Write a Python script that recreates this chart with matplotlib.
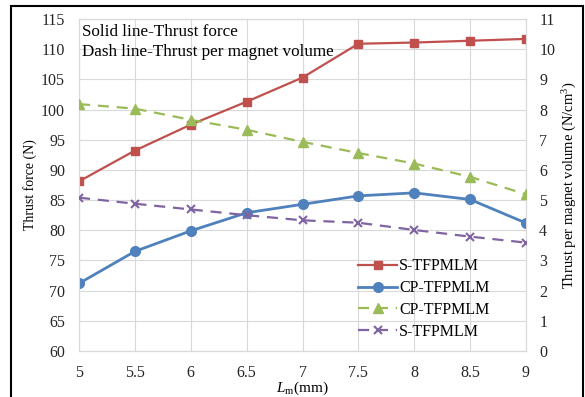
import matplotlib
matplotlib.use("Agg")
import matplotlib.pyplot as plt
from matplotlib.patches import Rectangle

plt.rcParams['font.family'] = ['Liberation Serif', 'DejaVu Serif']
plt.rcParams['mathtext.fontset'] = 'custom'
plt.rcParams['mathtext.rm'] = 'Liberation Serif'
plt.rcParams['mathtext.it'] = 'Liberation Serif:italic'

lm = [5, 5.5, 6, 6.5, 7, 7.5, 8, 8.5, 9]
s_force = [88.1, 93.2, 97.5, 101.3, 105.3, 110.9, 111.1, 111.4, 111.7]
cp_force = [71.2, 76.5, 79.9, 82.9, 84.3, 85.7, 86.2, 85.1, 81.2]
cp_per_vol = [8.18, 8.03, 7.66, 7.33, 6.93, 6.56, 6.21, 5.77, 5.19]
s_per_vol = [5.08, 4.88, 4.69, 4.50, 4.33, 4.25, 4.01, 3.79, 3.59]
xticks = [5, 5.5, 6, 6.5, 7, 7.5, 8, 8.5, 9]
xticklabels = ['5', '5.5', '6', '6.5', '7', '7.5', '8', '8.5', '9']
left_ticks = list(range(60, 116, 5))
right_ticks = list(range(0, 12))

red = '#C0504D'
blue = '#4F81BD'
green = '#9BBB59'
purple = '#8064A2'
grid = '#D9D9D9'

fig = plt.figure(figsize=(5.85, 3.97), dpi=100)
ax = fig.add_axes([79/585, 1 - 351/397, (526-79)/585, (351-19)/397])
ax2 = ax.twinx()

l1, = ax.plot(lm, s_force, color=red, lw=1.6, marker='s', ms=6, label='S-TFPMLM', zorder=3)
l2, = ax.plot(lm, cp_force, color=blue, lw=2.0, marker='o', ms=7, label='CP-TFPMLM', zorder=3)
l3, = ax2.plot(lm, cp_per_vol, color=green, lw=1.6, ls=(0, (5, 3.5)), marker='^', ms=7,
               label='CP-TFPMLM', zorder=3)
l4, = ax2.plot(lm, s_per_vol, color=purple, lw=1.6, ls=(0, (5, 3.5)), marker='x', ms=6,
               mew=1.5, label='S-TFPMLM', zorder=3)

ax.set_xlim(5, 9)
ax.set_ylim(60, 115)
ax2.set_ylim(0, 11)
ax.set_xticks(xticks)
ax.set_xticklabels(xticklabels)
ax.set_yticks(left_ticks)
ax2.set_yticks(right_ticks)
ax.grid(True, color=grid, lw=0.8)
ax.set_axisbelow(True)
for a in (ax, ax2):
    for s in a.spines.values():
        s.set_color(grid)
        s.set_linewidth(0.8)
    a.tick_params(length=0, labelsize=11.5, colors='#262626')
ax.tick_params(axis='y', pad=10)
ax2.tick_params(axis='y', pad=9.5)
ax.tick_params(axis='x', pad=10)

ax.set_xlabel('$L_\\mathrm{m}$(mm)', fontsize=11, labelpad=-1)
ax.set_ylabel('Thrust force (N)', fontsize=10, labelpad=3)
ax2.set_ylabel('Thrust per magnet volume (N/cm$^3$)', fontsize=10.5, labelpad=4)

ax.text(0.006, 0.986, 'Solid line-Thrust force', transform=ax.transAxes,
        fontsize=12.3, va='top', ha='left')
ax.text(0.006, 0.926, 'Dash line-Thrust per magnet volume', transform=ax.transAxes,
        fontsize=12.3, va='top', ha='left')

leg = ax2.legend(handles=[l1, l2, l3, l4], loc='lower left',
                 bbox_to_anchor=((352-79)/447, (351-346)/332), frameon=False,
                 fontsize=11.5, handlelength=2.4, handletextpad=0.15, labelspacing=0.36,
                 borderaxespad=0)

fig.add_artist(Rectangle((11/585, -0.1), (583-11)/585, 1.1 - 6/397,
                         transform=fig.transFigure, fill=False, edgecolor='black',
                         lw=1.5))

fig.savefig('out.png', dpi=100)
